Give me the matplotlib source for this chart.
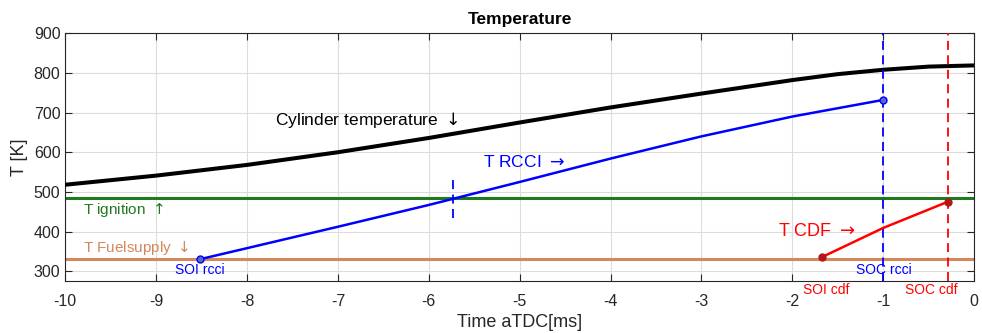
import numpy as np
import matplotlib
matplotlib.use("Agg")
import matplotlib.pyplot as plt

plt.rcParams['font.family'] = ['Liberation Sans', 'DejaVu Sans']
plt.rcParams['axes.unicode_minus'] = False
plt.rcParams['mathtext.fontset'] = 'dejavusans'

# cylinder temperature
t_cyl = [-10, -9, -8, -7, -6, -5, -4, -3, -2, -1.5, -1, -0.5, 0]
T_cyl = [518, 541, 568, 600, 636, 675, 713, 748, 782, 797, 808, 816, 819]

# RCCI temperature (SOI -> SOC)
t_rcci = [-8.52, -8, -7, -6, -5, -4, -3, -2, -1.0]
T_rcci = [330, 358, 412, 467, 525, 584, 640, 690, 732]

# CDF temperature (SOI -> SOC)
t_cdf = [-1.67, -1.0, -0.29]
T_cdf = [336, 409, 475]

T_ignition = 484
T_fuelsupply = 330
t_ign_rcci = -5.73
soc_rcci = -1.0
soc_cdf = -0.29

fig, ax = plt.subplots(figsize=(9.82, 3.33), dpi=100)
fig.subplots_adjust(left=0.0665, right=0.992, bottom=0.156, top=0.9)

green = '#1f7a1f'
orange = '#d4875a'

ax.axhline(T_ignition, color=green, lw=2.2, zorder=2)
ax.axhline(T_fuelsupply, color=orange, lw=2.2, zorder=2)
ax.plot(t_cyl, T_cyl, color='black', lw=2.9, zorder=3)
ax.plot(t_rcci, T_rcci, color='blue', lw=1.8, zorder=4)
ax.plot([t_rcci[0], t_rcci[-1]], [T_rcci[0], T_rcci[-1]], 'o', ms=5,
        color='blue', mfc='#5a66c8', zorder=5)
ax.plot(t_cdf, T_cdf, color='red', lw=1.8, zorder=4)
ax.plot([t_cdf[0], t_cdf[-1]], [T_cdf[0], T_cdf[-1]], 'o', ms=5,
        color='#b01818', zorder=5)

ax.axvline(soc_rcci, color='blue', ls=(0, (5, 3)), lw=1.3, zorder=3)
ax.axvline(soc_cdf, color='red', ls=(0, (5, 3)), lw=1.3, zorder=3)
ax.plot([t_ign_rcci, t_ign_rcci], [435, 535], color='blue', ls=(0, (5, 3)), lw=1.3, zorder=3)

ax.text(-6.68, 682, r'Cylinder temperature $\downarrow$', ha='center', va='center', fontsize=12.5)
ax.text(-5.40, 576, r'T RCCI $\rightarrow$', color='blue', ha='left', va='center', fontsize=12.5)
ax.text(-9.80, 455, r'T ignition $\uparrow$', color=green, ha='left', va='center', fontsize=11)
ax.text(-9.80, 358, r'T Fuelsupply $\downarrow$', color=orange, ha='left', va='center', fontsize=11)
ax.text(-8.52, 302, 'SOI rcci', color='blue', ha='center', va='center', fontsize=10)
ax.text(-0.99, 302, 'SOC rcci', color='blue', ha='center', va='center', fontsize=10)
ax.text(-2.16, 399, r'T CDF $\rightarrow$', color='red', ha='left', va='center', fontsize=13)
ax.text(-1.63, 253, 'SOI cdf', color='red', ha='center', va='center', fontsize=10, clip_on=False)
ax.text(-0.47, 253, 'SOC cdf', color='red', ha='center', va='center', fontsize=10, clip_on=False)

ax.set_xlim(-10, 0)
ax.set_ylim(275, 900)
ax.set_xticks(np.arange(-10, 1, 1))
ax.set_yticks(np.arange(300, 901, 100))
ax.grid(True, color='#dcdcdc', lw=0.8)
ax.set_axisbelow(True)
ax.tick_params(direction='in', top=True, right=True, length=5, labelsize=11.5,
               colors='#262626')
ax.tick_params(axis='x', pad=9)
for s in ax.spines.values():
    s.set_color('#262626')
ax.set_title('Temperature', fontweight='bold', fontsize=12.5, pad=7)
ax.set_xlabel('Time aTDC[ms]', fontsize=13, color='#262626', labelpad=4)
ax.set_ylabel('T [K]', fontsize=13, color='#262626', labelpad=4)

plt.savefig('out.png', dpi=100)
